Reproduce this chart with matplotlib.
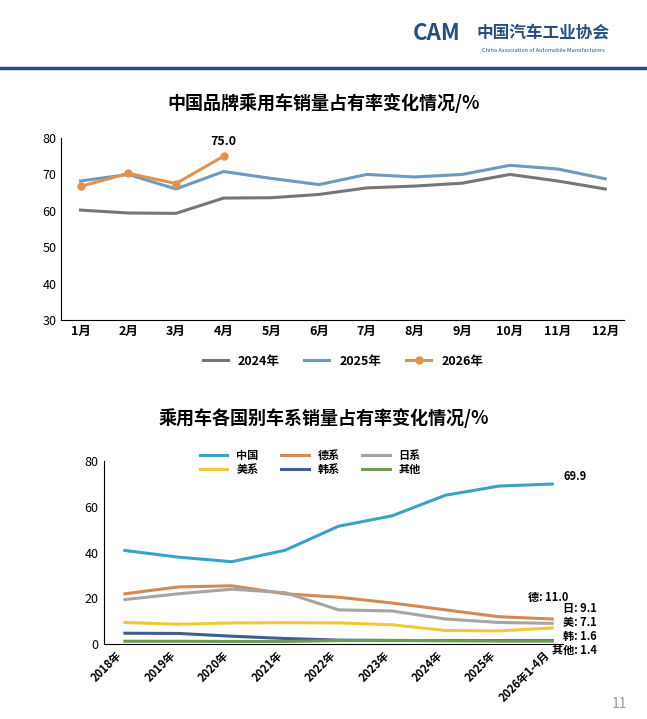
import numpy as np
import matplotlib.pyplot as plt

plt.rcParams['font.family'] = ['Noto Sans CJK SC', 'DejaVu Sans']

months = ['1月', '2月', '3月', '4月', '5月', '6月', '7月', '8月', '9月', '10月', '11月', '12月']
share_2024 = [60.2, 59.4, 59.3, 63.5, 63.6, 64.5, 66.3, 66.8, 67.6, 70.0, 68.2, 66.0]
share_2025 = [68.2, 70.0, 66.0, 70.8, 68.9, 67.2, 70.0, 69.3, 70.0, 72.5, 71.5, 68.8]
share_2026 = [66.7, 70.3, 67.5, 75.0]

years = ['2018年', '2019年', '2020年', '2021年', '2022年', '2023年', '2024年', '2025年', '2026年1-4月']
cn = [40.9, 38.0, 36.0, 41.0, 51.5, 56.0, 65.0, 69.0, 69.9]
de = [22.0, 25.0, 25.5, 22.0, 20.5, 18.0, 15.0, 12.0, 11.0]
jp = [19.5, 22.0, 24.0, 22.5, 15.0, 14.5, 11.0, 9.5, 9.1]
us = [9.5, 8.7, 9.3, 9.4, 9.3, 8.5, 6.0, 5.8, 7.1]
kr = [4.8, 4.7, 3.5, 2.5, 1.8, 1.6, 1.6, 1.6, 1.6]
other = [1.3, 1.3, 1.2, 1.2, 1.6, 1.7, 1.5, 1.4, 1.4]

fig = plt.figure(figsize=(6.47, 7.19), dpi=100)

# header
fig.text(0.675, 0.945, 'CAM', fontsize=16, color='#2a4f7a', fontweight='bold', ha='center', style='italic')
fig.text(0.84, 0.948, '中国汽车工业协会', fontsize=12, color='#2a4f7a', fontweight='bold', ha='center')
fig.text(0.84, 0.928, 'China Association of Automobile Manufacturers', fontsize=4, color='#2a4f7a', ha='center')
fig.add_artist(plt.Line2D([0, 1], [0.905, 0.905], color='#2a4f7a', lw=2.5))
fig.text(0.97, 0.015, '11', fontsize=10, color='#999999', ha='right')

# top chart
ax1 = fig.add_axes([0.095, 0.555, 0.87, 0.253])
x = np.arange(len(months))
ax1.plot(x, share_2024, color='#767676', lw=2.2, label='2024年')
ax1.plot(x, share_2025, color='#6f9ac0', lw=2.2, label='2025年')
ax1.plot(x[:len(share_2026)], share_2026, color='#e0924f', lw=2.2, marker='o', ms=5, label='2026年')
ax1.annotate('75.0', (3, share_2026[3]), xytext=(0, 8), textcoords='offset points',
             ha='center', fontsize=9, fontweight='bold')
ax1.set_ylim(30, 80)
ax1.set_yticks(range(30, 81, 10))
ax1.set_xlim(-0.4, 11.4)
ax1.set_xticks(x)
ax1.set_xticklabels(months, fontsize=9, fontweight='bold')
ax1.tick_params(axis='y', labelsize=9, length=0)
ax1.tick_params(axis='x', length=0)
for s in ['top', 'right']:
    ax1.spines[s].set_visible(False)
ax1.legend(loc='upper center', bbox_to_anchor=(0.5, -0.13), ncol=3, frameon=False,
           prop={'weight': 'bold', 'size': 9})
fig.text(0.5, 0.848, '中国品牌乘用车销量占有率变化情况/%', fontsize=13, fontweight='bold', ha='center')

# bottom chart
ax2 = fig.add_axes([0.16, 0.104, 0.71, 0.255])
x2 = np.arange(len(years))
series = [('中国', cn, '#3aa3c4'), ('德系', de, '#d38a55'), ('日系', jp, '#a5a5a5'),
          ('美系', us, '#f0c93a'), ('韩系', kr, '#3e5f92'), ('其他', other, '#6f9a55')]
lines = {}
for name, vals, c in series:
    lines[name], = ax2.plot(x2, vals, color=c, lw=2.2, label=name)
ax2.set_ylim(0, 80)
ax2.set_yticks(range(0, 81, 20))
ax2.set_xlim(-0.4, 8.2)
ax2.set_xticks(x2)
ax2.set_xticklabels(years, rotation=45, ha='right', fontsize=8, fontweight='bold')
ax2.tick_params(axis='y', labelsize=9, length=0)
ax2.tick_params(axis='x', length=0)
for s in ['top', 'right']:
    ax2.spines[s].set_visible(False)
ax2.annotate('69.9', (8, cn[-1]), xytext=(8, 3), textcoords='offset points', fontsize=8, fontweight='bold')
end_labels = [('德', de[-1], 7.55, 20.5), ('日', jp[-1], 8.2, 15.5), ('美', us[-1], 8.2, 9.5),
              ('韩', kr[-1], 8.2, 3.3), ('其他', other[-1], 8.0, -2.6)]
for k, v, xx, yy in end_labels:
    ax2.text(xx, yy, f'{k}: {v:.1f}', fontsize=8, fontweight='bold', clip_on=False, va='center')
order = ['中国', '美系', '德系', '韩系', '日系', '其他']
ax2.legend([lines[n] for n in order], order, loc='upper center', bbox_to_anchor=(0.45, 1.12), ncol=3,
           frameon=False, prop={'weight': 'bold', 'size': 8}, handlelength=2.5, columnspacing=2,
           labelspacing=0.1)
fig.text(0.5, 0.41, '乘用车各国别车系销量占有率变化情况/%', fontsize=13, fontweight='bold', ha='center')

fig.savefig('out.png', dpi=100)
